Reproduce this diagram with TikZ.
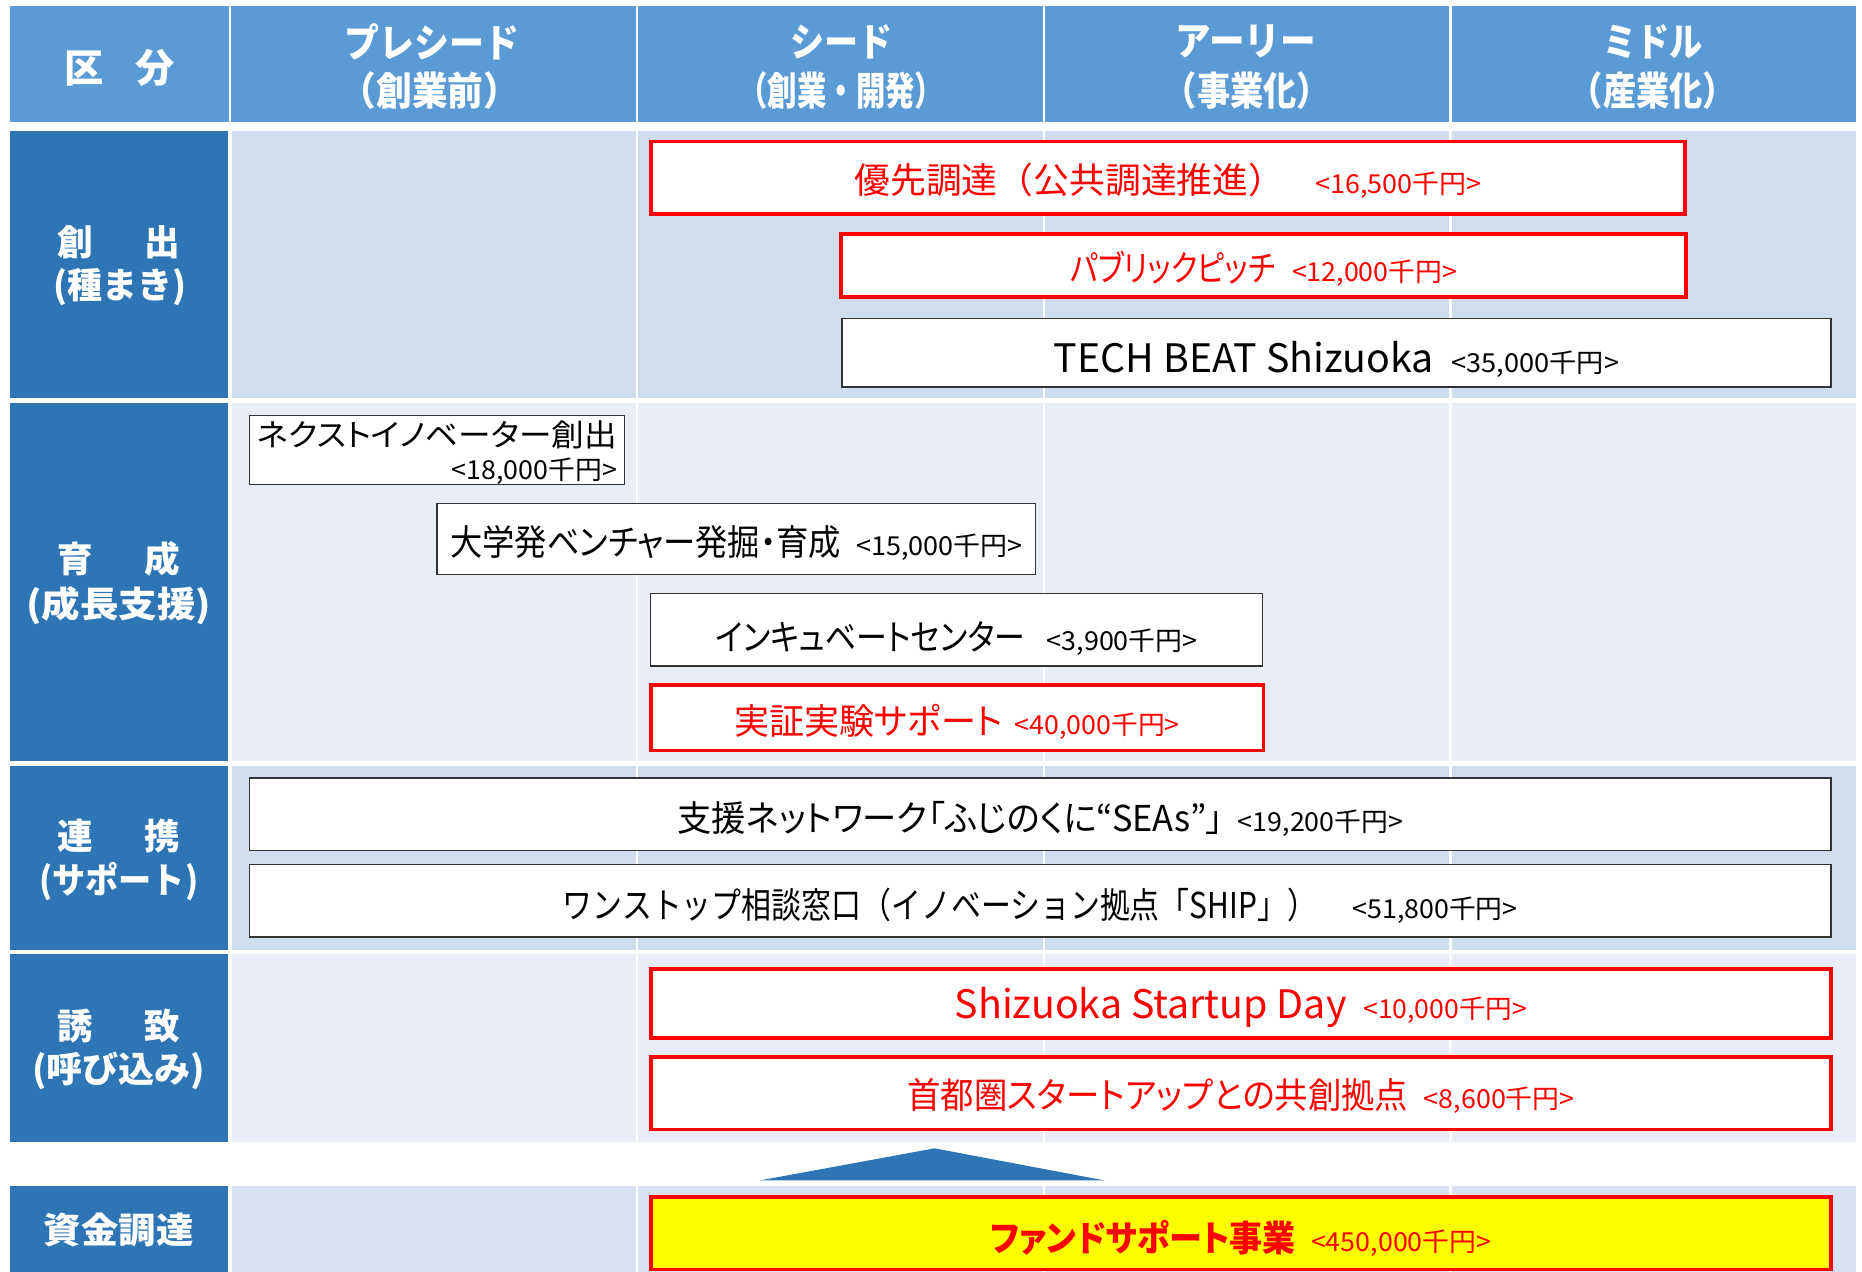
\documentclass[tikz,border=0pt]{standalone}
\usepackage{fontspec}
\setmainfont{Noto Sans CJK JP}
\newfontfamily\jpp{Noto Sans CJK JP}[RawFeature=+palt]
\usepackage{graphicx}
\definecolor{hdr}{HTML}{5B9BD5}
\definecolor{lab}{HTML}{2E75B6}
\definecolor{bandA}{HTML}{D0DDEE}
\definecolor{bandB}{HTML}{E8EDF6}
\definecolor{bandC}{HTML}{DAE1F2}
\definecolor{newred}{HTML}{FF0000}
\definecolor{fundy}{HTML}{FFFF00}
\newsavebox\fitbox
\newcommand\fitx[2]{\sbox\fitbox{#2}\pgfmathsetmacro\fitsx{#1/\the\wd\fitbox}\scalebox{\fitsx}[1]{\usebox\fitbox}}
\newcommand\szz[1]{\fontsize{#1}{#1}\selectfont}
% main text: width, size, text
\newcommand\mtx[3]{\fitx{#1}{\szz{#2}#3}}
% amount: width, text
\newcommand\amt[2]{\fitx{#1}{\mdseries\szz{22}#2}}
\newcommand\pbox[7]{\node[#6, minimum width={(#4-#2)*1pt}, minimum height={(#5-#3)*1pt}] (#1) at ({(#2+#4)/2},{(#3+#5)/2}) {#7};}
\newcommand\shiftdn[2]{\raisebox{-#1pt}[\height][\depth]{#2}}
\tikzset{
 redbox/.style={draw=newred, line width=3pt, fill=white, inner sep=0pt, text=newred},
 blkbox/.style={draw=black!80, line width=1.2pt, fill=white, inner sep=0pt, text=black},
 fundbox/.style={draw=newred, line width=3pt, fill=fundy, inner sep=0pt, text=newred},
 hdrtxt/.style={text=white, inner sep=0pt, font=\bfseries\szz{33}},
 labtxt/.style={text=white, inner sep=0pt, font=\bfseries\szz{30}},
 sepline/.style={white, line width=1.8pt},
}
\begin{document}
\begin{tikzpicture}[x=1pt,y=-1pt]
\useasboundingbox (0,0) rectangle (1568,1071);
\fill[white] (0,0) rectangle (1568,1071);
% header
\fill[hdr] (8,5) rectangle (1563,103);
\foreach \x in {193.5,536.5,879.5,1221.5} \draw[sepline] (\x,5) -- (\x,103);
% bands
\foreach \ya/\yb/\bc in {110/335/bandA, 339/641/bandB, 645/800/bandA, 803/962/bandB, 999/1071/bandC}{
  \fill[lab] (8,\ya) rectangle (192,\yb);
  \fill[\bc] (195,\ya) rectangle (1563,\yb);
  \foreach \x in {536.5,879.5,1221.5} \draw[sepline] (\x,\ya) -- (\x,\yb);
}
% header texts
\node[hdrtxt] (h0) at (101,57) {\makebox[93pt][s]{区\hfil 分}};
\node[hdrtxt] (h1a) at (363.5,35) {\fitx{147}{プレシード}};
\node[hdrtxt] (h1b) at (362,76) {\fitx{150}{（創業前）}};
\node[hdrtxt] (h2a) at (709,35) {\fitx{86}{シード}};
\node[hdrtxt] (h2b) at (708.5,76) {\fitx{173}{（創業・開発）}};
\node[hdrtxt] (h3a) at (1049,35) {\fitx{118}{アーリー}};
\node[hdrtxt] (h3b) at (1050,76) {\fitx{140}{（事業化）}};
\node[hdrtxt] (h4a) at (1392,35) {\fitx{84}{ミドル}};
\node[hdrtxt] (h4b) at (1392,76) {\fitx{140}{（産業化）}};
% left labels
\node[labtxt] (l1a) at (100,204) {\makebox[104pt][s]{創\hfil 出}};
\node[labtxt] (l1b) at (101,242) {\fitx{112}{(種まき)}};
\node[labtxt] (l2a) at (100,471) {\makebox[104pt][s]{育\hfil 成}};
\node[labtxt] (l2b) at (100,510) {\fitx{156}{(成長支援)}};
\node[labtxt] (l3a) at (100,704) {\makebox[104pt][s]{連\hfil 携}};
\node[labtxt] (l3b) at (100,742) {\fitx{134}{(サポート)}};
\node[labtxt] (l4a) at (100,864) {\makebox[104pt][s]{誘\hfil 致}};
\node[labtxt] (l4b) at (100,902) {\fitx{146}{(呼び込み)}};
\node[labtxt] (l5) at (100,1036) {\fitx{126}{資金調達}};
% program boxes
\pbox{b1}{548}{119}{1419}{180}{redbox}{\shiftdn{3}{\mtx{362}{30}{優先調達（公共調達推進）}\hspace{26pt}\amt{140}{<16,500千円>}}}
\pbox{b2}{708}{197}{1420}{250}{redbox}{\shiftdn{2.5}{\mtx{173}{30}{\jpp パブリックピッチ}\hspace{14pt}\amt{139}{<12,000千円>}}}
\pbox{b3}{709}{268}{1542}{326}{blkbox}{\shiftdn{6}{\mtx{320}{33}{TECH BEAT Shizuoka}\hspace{15pt}\amt{141}{<35,000千円>}}}
\pbox{b4}{210}{350}{526}{408}{blkbox, font=\fontsize{22}{28}\selectfont}{\shiftdn{4}{\begin{tabular}{@{}r@{}}\mtx{303}{26}{\jpp ネクストイノベーター創出}\\\amt{139}{<18,000千円>}\end{tabular}}}
\pbox{b5}{368}{424}{872}{484}{blkbox}{\shiftdn{3}{\mtx{329}{30}{\jpp 大学発ベンチャー発掘・育成}\hspace{13pt}\amt{140}{<15,000千円>}}}
\pbox{b6}{548}{500}{1063}{561}{blkbox}{\shiftdn{7}{\mtx{261}{30}{\jpp インキュベートセンター}\hspace{18pt}\amt{127}{<3,900千円>}}}
\pbox{b7}{548}{577}{1064}{632}{redbox}{\shiftdn{3}{\mtx{226}{30}{\jpp 実証実験サポート}\hspace{10pt}\amt{139}{<40,000千円>}}}
\pbox{b8}{210}{655}{1542}{716}{blkbox}{\shiftdn{4}{\mtx{460}{30}{\jpp 支援ネットワーク「ふじのくに“SEAs”」}\hspace{12pt}\amt{139}{<19,200千円>}}}
\pbox{b9}{210}{728}{1542}{789}{blkbox}{\shiftdn{4}{\mtx{635}{30}{ワンストップ相談窓口（イノベーション拠点「SHIP」）}\hspace{30pt}\amt{139}{<51,800千円>}}}
\pbox{b10}{548}{816}{1542}{874}{redbox}{\shiftdn{3}{\mtx{330}{33}{Shizuoka Startup Day}\hspace{14pt}\amt{138}{<10,000千円>}}}
\pbox{b11}{548}{890}{1542}{951}{redbox}{\shiftdn{2.5}{\mtx{422}{30}{\jpp 首都圏スタートアップとの共創拠点}\hspace{13pt}\amt{127}{<8,600千円>}}}
\pbox{b13}{548}{1008}{1542}{1069}{fundbox}{\shiftdn{4}{\mtx{257}{30}{\jpp\bfseries ファンドサポート事業}\hspace{13pt}\amt{152}{<450,000千円>}}}
% arrow triangle
\fill[lab] (640,994) -- (787,967) -- (930,994) -- cycle;
\end{tikzpicture}
\end{document}
